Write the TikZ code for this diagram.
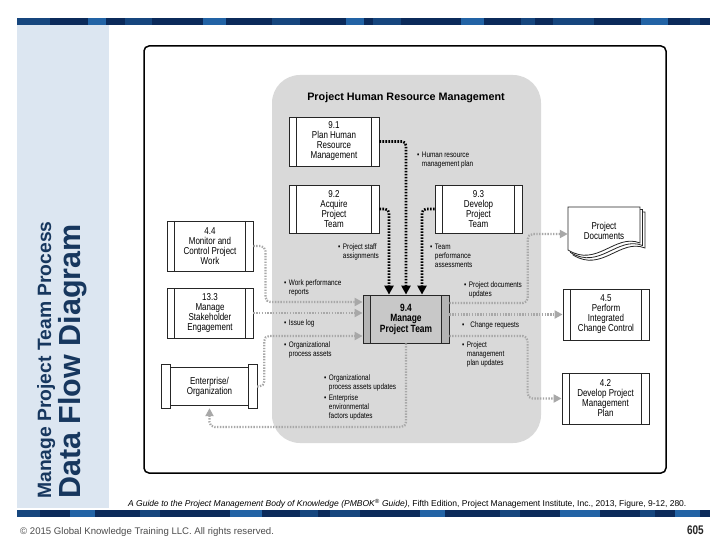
\documentclass[tikz,border=0pt]{standalone}
\usepackage{fontspec}
\setmainfont{Liberation Sans}
\newfontfamily\dfont[FakeStretch=0.8]{Liberation Sans}
\usetikzlibrary{arrows.meta,calc}

\definecolor{navy}{HTML}{17375E}
\definecolor{panel}{HTML}{DCE6F1}
\definecolor{regiongray}{HTML}{D9D9D9}
\definecolor{boxgray}{HTML}{C8C8C8}
\definecolor{stripgray}{HTML}{B4B4B4}
\definecolor{flowgray}{HTML}{A8A8A8}
\definecolor{bardark}{HTML}{0B2A5A}
\definecolor{barmid}{HTML}{16467E}
\definecolor{barlight}{HTML}{2263A5}

\newcommand{\bul}[2][2.5pt]{\begin{tabular}[t]{@{}l@{\hspace{#1}}l@{}}\textbullet&\begin{tabular}[t]{@{}l@{}}#2\end{tabular}\end{tabular}}

\tikzset{
  boxfont/.style={font=\dfont\fontsize{10}{10}\selectfont},
  proc/.style={draw=black!85, line width=0.8pt, fill=white, inner sep=0pt, align=center, boxfont,
    path picture={
      \draw[black!85, line width=0.8pt] ([xshift=7.5pt]path picture bounding box.north west) -- ([xshift=7.5pt]path picture bounding box.south west);
      \draw[black!85, line width=0.8pt] ([xshift=-7.5pt]path picture bounding box.north east) -- ([xshift=-7.5pt]path picture bounding box.south east);
    }},
  mainproc/.style={draw=black!85, line width=0.8pt, fill=boxgray, inner sep=0pt, align=center,
    font=\dfont\bfseries\fontsize{10.5}{10.5}\selectfont,
    path picture={
      \fill[stripgray] (path picture bounding box.north west) rectangle ([xshift=7.5pt]path picture bounding box.south west);
      \fill[stripgray] ([xshift=-7.5pt]path picture bounding box.north east) rectangle (path picture bounding box.south east);
      \draw[black!85, line width=0.8pt] ([xshift=7.5pt]path picture bounding box.north west) -- ([xshift=7.5pt]path picture bounding box.south west);
      \draw[black!85, line width=0.8pt] ([xshift=-7.5pt]path picture bounding box.north east) -- ([xshift=-7.5pt]path picture bounding box.south east);
    }},
  boxline/.style={draw=black!85, line width=0.8pt, fill=white},
  blk/.style={draw=black, line width=2.6pt, dash pattern=on 1.6pt off 1.4pt, rounded corners=4pt,
    -{Triangle[length=9pt,width=9pt]}},
  gry/.style={draw=flowgray, line width=2.2pt, dash pattern=on 1.4pt off 1.4pt, rounded corners=5pt,
    -{Triangle[length=8pt,width=8pt]}},
  lbl/.style={anchor=north west, inner sep=0pt, font=\dfont\fontsize{8}{9}\selectfont},
}

\begin{document}
\begin{tikzpicture}[x=1pt,y=-1pt]
\useasboundingbox (0,0) rectangle (720,540);
\fill[white] (0,0) rectangle (720,540);

% side panel and bars
\fill[panel] (17,25) rectangle (109,508);
\fill[bardark] (17,18) rectangle (710,25);
\foreach \a/\b/\c in {17/50/barmid,88/106/barlight,125/152/barmid,203/226/barlight,272/300/barmid,346/364/barlight,373/401/barmid,461/484/barlight,521/535/barmid,553/594/barmid,641/668/barlight,690/700/barmid}
  {\fill[\c] (\a,18) rectangle (\b,25);}
\fill[bardark] (17,510) rectangle (710,517);
\foreach \a/\b/\c in {17/40/barmid,70/95/barlight,140/160/barmid,230/262/barlight,300/318/barmid,330/360/barmid,420/445/barlight,500/520/barmid,560/600/barlight,640/655/barmid,675/700/barlight}
  {\fill[\c] (\a,510) rectangle (\b,517);}

\node[rotate=90, anchor=base west, inner sep=0pt, text=navy, font=\bfseries\fontsize{19.3}{20}\selectfont] (t1) at (51,499) {Manage Project Team Process};
\node[rotate=90, anchor=base west, inner sep=0pt, text=navy, font=\bfseries\fontsize{30.5}{32}\selectfont] (t2) at (80,499) {Data Flow Diagram};

% frame and region
\draw[black, line width=1.5pt, rounded corners=5pt] (144,46) rectangle (666,473);
\fill[regiongray, rounded corners=28pt] (272,75) rectangle (541,443);
\node[font=\bfseries\fontsize{10.8}{12}\selectfont] (title) at (406,98) {Project Human Resource Management};

% processes
\node[proc, minimum width=90pt, minimum height=49pt] (n91) at (334,141.5) {9.1\\Plan Human\\Resource\\Management};
\node[proc, minimum width=90pt, minimum height=48pt] (n92) at (334,209) {9.2\\Acquire\\Project\\Team};
\node[proc, minimum width=87pt, minimum height=48pt] (n93) at (478.5,209) {9.3\\Develop\\Project\\Team};
\node[proc, minimum width=86pt, minimum height=50pt] (n44) at (210,246) {4.4\\Monitor and\\Control Project\\Work};
\node[proc, minimum width=86pt, minimum height=50pt] (n133) at (210,313) {13.3\\Manage\\Stakeholder\\Engagement};
\node[proc, minimum width=86pt, minimum height=51pt] (n45) at (606,314.5) {4.5\\Perform\\Integrated\\Change Control};
\node[proc, minimum width=87pt, minimum height=51pt] (n42) at (605.5,398.5) {4.2\\Develop Project\\Management\\Plan};
\node[mainproc, minimum width=86pt, minimum height=48pt] (n94) at (406,319) {9.4\\Manage\\Project Team};

% enterprise / organization
\node[minimum width=95pt, minimum height=43pt, inner sep=0pt] (nent) at (209.5,386.5) {};
\draw[boxline] ([xshift=9pt,yshift=-3pt]nent.north west) rectangle ([xshift=-9pt,yshift=3pt]nent.south east);
\draw[boxline] (nent.north west) rectangle ([xshift=9pt]nent.south west);
\draw[boxline] ([xshift=-9pt]nent.north east) rectangle (nent.south east);
\node[boxfont, align=center] (enttext) at (nent.center) {Enterprise/\\Organization};

% project documents
\foreach \d in {5,2.5,0}
  {\draw[boxline] (568+\d,207+\d) -- (640+\d,207+\d) -- (640+\d,243+\d)
     .. controls (615+\d,233+\d) and (597+\d,268+\d) .. (568+\d,250+\d) -- cycle;}
\node[boxfont, align=center, minimum width=72pt, minimum height=46pt, inner sep=0pt] (ndoc) at (604,231) {Project\\Documents};

% black flows
\draw[blk] (n91.east) -| (n94.north);
\draw[blk] (n92.east) -| ([xshift=-17pt]n94.north);
\draw[blk] (n93.west) -| ([xshift=16pt]n94.north);

% gray flows
\draw[gry] (n44.east) -- ++(12,0) |- ([yshift=17pt]n94.west);
\draw[gry] (n133.east) -- (n133.east -| n94.west);
\draw[gry] (nent.east) -- ++(7,0) |- ([yshift=-17pt]n94.west);
\draw[gry] (n94.south) -- (n94.south |- 0,427) -| (nent.south);
\draw[gry] ([yshift=16pt]n94.east) -| ([xshift=-40pt,yshift=-3pt]ndoc.west) -- ([yshift=-3pt]ndoc.west);
\draw[gry] (n45.west -| n94.east) -- (n45.west);
\draw[gry] ([yshift=-17pt]n94.east) -| ([xshift=-34pt]n42.west) -- (n42.west);

% labels
\node[lbl] (l1) at (417,151) {\bul{Human resource\\management plan}};
\node[lbl] (l2) at (338,243) {\bul{Project staff\\assignments}};
\node[lbl] (l3) at (430,243) {\bul{Team\\performance\\assessments}};
\node[lbl] (l4) at (284,279) {\bul{Work performance\\reports}};
\node[lbl] (l5) at (284,319) {\bul{Issue log}};
\node[lbl] (l6) at (284,341) {\bul{Organizational\\process assets}};
\node[lbl] (l7) at (464,281) {\bul{Project documents\\updates}};
\node[lbl] (l8) at (462,321) {\bul[6pt]{Change requests}};
\node[lbl] (l9) at (462,341) {\bul{Project\\management\\plan updates}};
\node[lbl] (l10) at (324,374) {\bul{Organizational\\process assets updates}};
\node[lbl] (l11) at (324,394) {\bul{Enterprise\\environmental\\factors updates}};

% footer
\node[anchor=base west, inner sep=0pt, font=\fontsize{8.5}{9}\selectfont] (cite) at (128,506)
  {\textit{A Guide to the Project Management Body of Knowledge (PMBOK\textsuperscript{®} Guide)}, Fifth Edition, Project Management Institute, Inc., 2013, Figure, 9-12, 280.};
\node[anchor=base west, inner sep=0pt, text=black!70, font=\fontsize{9.6}{10}\selectfont] (copy) at (20,534)
  {© 2015 Global Knowledge Training LLC. All rights reserved.};
\node[anchor=base east, inner sep=0pt, text=black!85, font=\dfont\bfseries\fontsize{12.5}{13}\selectfont] (pg) at (704,534) {605};
\end{tikzpicture}
\end{document}
